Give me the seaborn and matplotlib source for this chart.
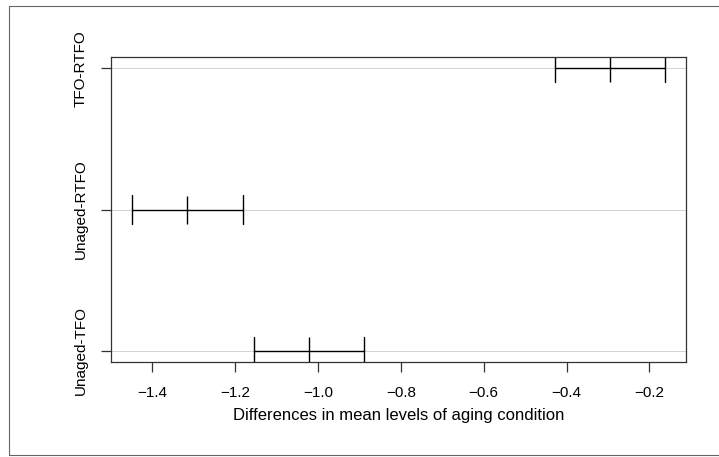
import matplotlib

matplotlib.use("Agg")
import matplotlib.pyplot as plt
import pandas as pd
import seaborn as sns
from matplotlib.patches import Rectangle


COMPARISONS = ["TFO-RTFO", "Unaged-RTFO", "Unaged-TFO"]
DIFF = [-0.295, -1.315, -1.022]
LWR = [-0.428, -1.448, -1.155]
UPR = [-0.163, -1.182, -0.889]
X_TICKS = [-1.4, -1.2, -1.0, -0.8, -0.6, -0.4, -0.2]
X_LABEL = "Differences in mean levels of aging condition"

FIG_W, FIG_H = 719, 457
FRAME_COLOR = "#333333"


def build_frame() -> pd.DataFrame:
    # lower, centre and upper value per comparison; median = centre, min/max = interval
    rows = []
    for name, lo, mid, hi in zip(COMPARISONS, LWR, DIFF, UPR):
        for value in (lo, mid, hi):
            rows.append({"comparison": name, "value": value})
    return pd.DataFrame(rows)


def main() -> None:
    sns.set_theme(style="white")
    plt.rcParams["font.family"] = ["Liberation Sans", "DejaVu Sans"]
    plt.rcParams["font.size"] = 11.5

    df = build_frame()

    fig = plt.figure(figsize=(FIG_W / 100, FIG_H / 100), dpi=100)
    ax = fig.add_axes([111 / FIG_W, 1 - 362 / FIG_H, (686 - 111) / FIG_W, (362 - 57) / FIG_H])

    sns.pointplot(
        data=df,
        x="value",
        y="comparison",
        order=COMPARISONS,
        estimator="median",
        errorbar=("pi", 100),
        capsize=0.2,
        markers="|",
        linestyles="none",
        color="black",
        linewidth=1.0,
        markersize=20,
        markeredgewidth=1.0,
        err_kws={"linewidth": 1.0, "color": "black"},
        ax=ax,
    )

    lo, hi = min(LWR), max(UPR)
    pad = 0.04 * (hi - lo)
    ax.set_xlim(lo - pad, hi + pad)
    ax.set_ylim(len(COMPARISONS) - 1 + 0.08, -0.08)

    ax.set_xticks(X_TICKS)
    ax.set_xticklabels([f"{t:.1f}".replace("-", "\u2212") for t in X_TICKS])
    ax.set_yticks(range(len(COMPARISONS)))
    ax.set_yticklabels(COMPARISONS)
    plt.setp(ax.get_yticklabels(), rotation=90, va="center", ha="right")

    ax.yaxis.grid(True, color="lightgray", linewidth=0.7)
    ax.xaxis.grid(False)
    ax.set_axisbelow(True)

    for spine in ax.spines.values():
        spine.set_visible(True)
        spine.set_color(FRAME_COLOR)
        spine.set_linewidth(0.9)

    ax.tick_params(axis="x", length=7.2, width=0.9, color=FRAME_COLOR, pad=10.3,
                   labelcolor="black", bottom=True)
    ax.tick_params(axis="y", length=7.2, width=0.9, color=FRAME_COLOR, pad=9.7,
                   labelcolor="black", left=True)

    ax.set_xlabel(X_LABEL, labelpad=5.8, color="black")
    ax.set_ylabel("")

    # outer figure border, right edge falls outside the canvas
    fig.patches.append(
        Rectangle(
            (8.5 / FIG_W, 1 - 454.5 / FIG_H),
            1.0,
            (454.5 - 5.5) / FIG_H,
            transform=fig.transFigure,
            fill=False,
            edgecolor="#666666",
            linewidth=0.8,
        )
    )

    fig.savefig("out.png", dpi=100)
    plt.close(fig)


if __name__ == "__main__":
    main()
